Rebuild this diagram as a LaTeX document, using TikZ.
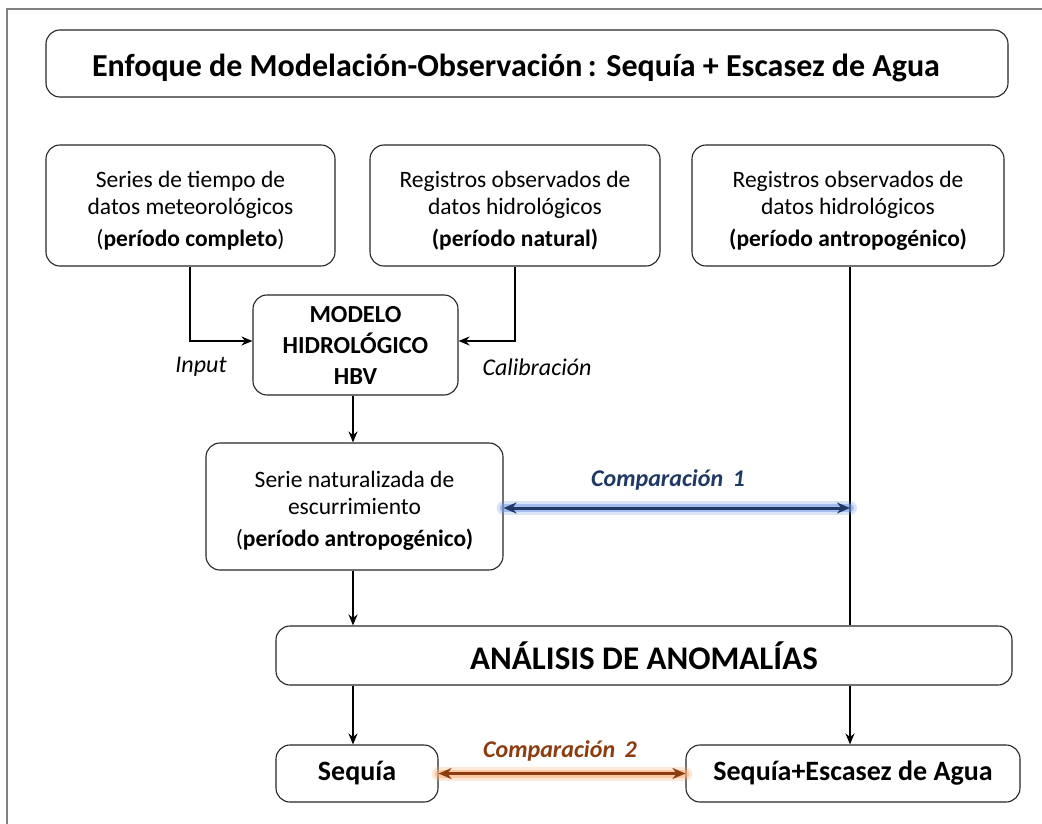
\documentclass[tikz,border=0pt]{standalone}
\usepackage{fontspec}
\setmainfont{Carlito}
\usetikzlibrary{arrows.meta}
\definecolor{darkblue}{RGB}{31,56,100}
\definecolor{glowblue}{RGB}{110,150,230}
\definecolor{brown2}{RGB}{140,60,15}
\definecolor{gloworange}{RGB}{250,170,110}
\newcommand{\topstrut}[1]{\rule{0pt}{#1}}
\tikzset{
  box/.style={draw=black!85, line width=1.1pt, rounded corners=14pt, align=center, inner sep=2pt, font=\fontsize{23.5}{27}\selectfont},
  conn/.style={line width=1.6pt, -{Stealth[length=11pt,width=9pt]}},
  plain/.style={line width=1.6pt},
  lbl/.style={font=\fontsize{24}{26}\selectfont\itshape},
  cmp/.style={font=\fontsize{24}{26}\selectfont\bfseries\itshape},
}
\begin{document}
\begin{tikzpicture}[x=1pt,y=-1pt]
\useasboundingbox (0,0) rectangle (1042,824);
\fill[white] (0,0) rectangle (1042,824);
\draw[gray, line width=2pt] (7,824) -- (7,9) -- (1042,9);

\node[box, minimum width=962pt, minimum height=67pt, font=\fontsize{32}{36}\selectfont\bfseries] (title) at (527,63.5) {\topstrut{32pt}Enfoque de Modelación-Observación\,: Sequía + Escasez de Agua\hspace*{22pt}};

\node[box, minimum width=289pt, minimum height=121pt] (A) at (190.5,205.5) {\topstrut{27pt}Series de tiempo de\\datos meteorológicos\\[5pt](\textbf{período completo})};
\node[box, minimum width=290pt, minimum height=121pt] (B) at (515,205.5) {\topstrut{27pt}Registros observados de\\datos hidrológicos\\[5pt]\textbf{(período natural)}};
\node[box, minimum width=312pt, minimum height=121pt] (C) at (848,205.5) {\topstrut{27pt}Registros observados de\\datos hidrológicos\\[5pt]\textbf{(período antropogénico)}};

\node[box, minimum width=205pt, minimum height=100pt, font=\fontsize{24.5}{31}\selectfont\bfseries] (M) at (355.5,345) {MODELO\\HIDROLÓGICO\\HBV};

\node[box, minimum width=297pt, minimum height=127pt] (S) at (354.5,506.5) {\topstrut{25pt}Serie naturalizada de\\escurrimiento\\[5pt](\textbf{período antropogénico)}};

\node[box, minimum width=736pt, minimum height=59pt, font=\fontsize{33}{36}\selectfont\bfseries] (AN) at (644,655.5) {ANÁLISIS DE ANOMALÍAS};

\node[box, minimum width=162pt, minimum height=57pt, font=\fontsize{28}{30}\selectfont\bfseries] (SQ) at (357,773.5) {Sequía};
\node[box, minimum width=334pt, minimum height=57pt, font=\fontsize{28}{30}\selectfont\bfseries] (SE) at (853,773.5) {Sequía+Escasez de Agua};

% connectors
\draw[conn] (A.south -| 190,0) |- (M.west |- 0,341);
\draw[conn] (B.south -| 515,0) |- (M.east |- 0,341);
\node[lbl] (inp) at (201,367) {Input};
\node[lbl] (cal) at (537,367) {Calibración};

\draw[conn] (M.south -| 353,0) -- (S.north -| 353,0);
\draw[conn] (S.south -| 353,0) -- (AN.north -| 353,0);
\draw[plain] (C.south -| 850,0) -- (AN.north -| 850,0);
\draw[conn] (AN.south -| 353,0) -- (SQ.north -| 353,0);
\draw[conn] (AN.south -| 850,0) -- (SE.north -| 850,0);

% comparison 1
\coordinate (c1r) at (850,508);
\draw[glowblue, line width=14pt, opacity=0.25, line cap=round] (S.east |- 0,508) -- (c1r);
\draw[glowblue, line width=8pt, opacity=0.5, line cap=round] (S.east |- 0,508) -- (c1r);
\draw[darkblue, line width=3pt, {Stealth[length=13pt,width=11pt]}-{Stealth[length=13pt,width=11pt]}] (S.east |- 0,508) -- (c1r);
\node[cmp, text=darkblue] (c1) at (668,480) {Comparación\, 1};

% comparison 2
\draw[gloworange, line width=14pt, opacity=0.25, line cap=round] (SQ.east) -- (SE.west);
\draw[gloworange, line width=8pt, opacity=0.5, line cap=round] (SQ.east) -- (SE.west);
\draw[brown2, line width=3pt, {Stealth[length=13pt,width=11pt]}-{Stealth[length=13pt,width=11pt]}] (SQ.east) -- (SE.west);
\node[cmp, text=brown2] (c2) at (560,751) {Comparación\, 2};
\end{tikzpicture}
\end{document}
